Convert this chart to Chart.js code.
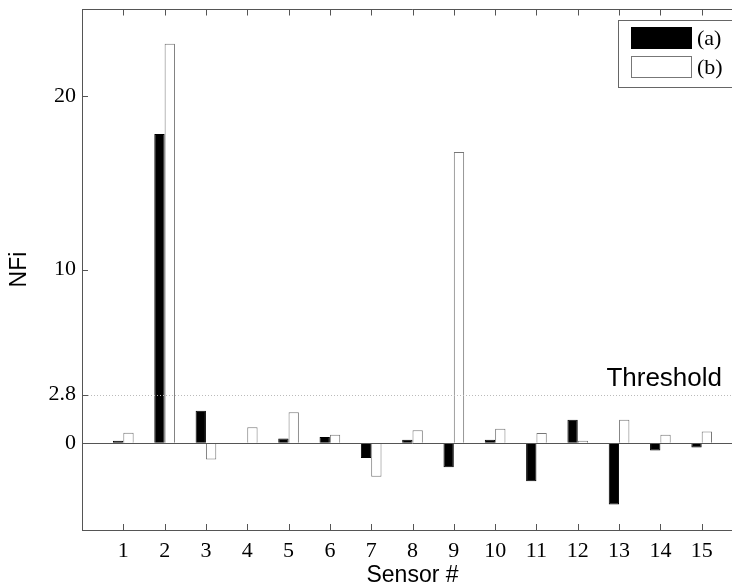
<!DOCTYPE html>
<html>
<head>
<meta charset="utf-8">
<script src="https://cdn.jsdelivr.net/npm/chart.js@4/dist/chart.umd.min.js"></script>
<style>
  html, body { margin: 0; padding: 0; background: #fff; overflow: hidden; }
  #wrap { width: 732px; height: 587px; overflow: hidden; }
  canvas { display: block; }
</style>
</head>
<body>
<div id="wrap"><canvas id="nfiChart" width="760" height="587"></canvas></div>
<script>
// sensor numbers on the x axis
const sensors = [1, 2, 3, 4, 5, 6, 7, 8, 9, 10, 11, 12, 13, 14, 15];
// NFi values
const seriesA = [0.14, 17.8, 1.86, 0, 0.27, 0.35, -0.86, 0.2, -1.38, 0.2, -2.2, 1.35, -3.53, -0.42, -0.25];
const seriesB = [0.6, 23.0, -0.94, 0.92, 1.78, 0.48, -1.93, 0.75, 16.77, 0.83, 0.58, 0.14, 1.35, 0.48, 0.67];
const yTickValues = [0, 2.8, 10, 20];
const threshold = 2.8;
const legendLabels = ['(a)', '(b)'];

const axisColor = '#555';

// inward tick marks, box, zero line, threshold line and label, legend box
const decorPlugin = {
  id: 'decor',
  afterDraw(chart) {
    const ctx = chart.ctx;
    const area = chart.chartArea;
    const x = chart.scales.x;
    const y = chart.scales.y;
    ctx.save();

    // threshold (dotted)
    const ty = Math.round(y.getPixelForValue(threshold)) + 0.5;
    ctx.strokeStyle = '#bbb';
    ctx.lineWidth = 1;
    ctx.setLineDash([1, 2]);
    ctx.beginPath();
    ctx.moveTo(area.left, ty);
    ctx.lineTo(area.right, ty);
    ctx.stroke();
    ctx.setLineDash([]);

    ctx.fillStyle = '#000';
    ctx.font = '26px "Liberation Sans", Arial, sans-serif';
    ctx.textAlign = 'right';
    ctx.textBaseline = 'alphabetic';
    ctx.fillText('Threshold', area.right - 21, ty - 10);

    // zero line and top / right border of the box
    const zy = Math.round(y.getPixelForValue(0)) + 0.5;
    const top = Math.round(area.top) + 0.5;
    const right = Math.round(area.right) + 0.5;
    ctx.strokeStyle = axisColor;
    ctx.beginPath();
    ctx.moveTo(area.left, zy);
    ctx.lineTo(area.right, zy);
    ctx.moveTo(area.left, top);
    ctx.lineTo(right, top);
    ctx.lineTo(right, area.bottom);
    ctx.stroke();

    // tick marks pointing inward
    const tl = 6;
    ctx.beginPath();
    sensors.forEach(s => {
      const px = Math.round(x.getPixelForValue(s)) + 0.5;
      ctx.moveTo(px, area.bottom);
      ctx.lineTo(px, area.bottom - tl);
      ctx.moveTo(px, top);
      ctx.lineTo(px, top + tl);
    });
    yTickValues.forEach(v => {
      const py = Math.round(y.getPixelForValue(v)) + 0.5;
      ctx.moveTo(area.left, py);
      ctx.lineTo(area.left + tl, py);
      ctx.moveTo(right, py);
      ctx.lineTo(right - tl, py);
    });
    ctx.stroke();

    // legend
    const lx = area.right - 125;
    const ly = area.top + 11;
    ctx.strokeStyle = '#666';
    ctx.strokeRect(lx + 0.5, ly + 0.5, 130, 67);
    ctx.font = '22px "Liberation Serif", "Times New Roman", serif';
    ctx.textAlign = 'left';
    ctx.textBaseline = 'middle';
    chart.data.datasets.forEach((ds, i) => {
      const sy = ly + 7 + i * 29;
      ctx.fillStyle = ds.backgroundColor;
      ctx.fillRect(lx + 13, sy, 61, 22);
      ctx.strokeStyle = ds.borderColor;
      ctx.strokeRect(lx + 13.5, sy + 0.5, 60, 21);
      ctx.fillStyle = '#000';
      ctx.fillText(legendLabels[i], lx + 79, sy + 12);
    });

    ctx.restore();
  }
};

const ctx = document.getElementById('nfiChart').getContext('2d');
const chart = new Chart(ctx, {
  type: 'bar',
  data: {
    datasets: [
      {
        label: legendLabels[0],
        data: sensors.map((s, i) => ({ x: s, y: seriesA[i] })),
        backgroundColor: '#000',
        borderColor: '#000',
        borderWidth: 1,
        categoryPercentage: 0.5,
        barPercentage: 1.0
      },
      {
        label: legendLabels[1],
        data: sensors.map((s, i) => ({ x: s, y: seriesB[i] })),
        backgroundColor: '#fff',
        borderColor: '#777',
        borderWidth: 1,
        categoryPercentage: 0.5,
        barPercentage: 1.0
      }
    ]
  },
  options: {
    responsive: false,
    animation: false,
    devicePixelRatio: 1,
    layout: { padding: { top: 9, right: 17, left: 0, bottom: 0 } },
    plugins: {
      legend: { display: false },
      tooltip: { enabled: false }
    },
    scales: {
      x: {
        type: 'linear',
        min: 0,
        max: 16,
        offset: false,
        grid: { display: true, drawOnChartArea: false, drawTicks: false },
        border: { display: true, color: axisColor },
        ticks: {
          stepSize: 1,
          padding: 8,
          color: '#000',
          font: { family: '"Liberation Serif", "Times New Roman", serif', size: 22 },
          callback: v => (v >= 1 && v <= 15 ? String(v) : '')
        },
        title: {
          display: true,
          text: 'Sensor #',
          color: '#000',
          font: { family: '"Liberation Sans", Arial, sans-serif', size: 23, lineHeight: 1 },
          padding: { top: 0, bottom: 0 }
        },
        afterFit: s => { s.height = 57; s.paddingLeft = 0; s.paddingRight = 0; }
      },
      y: {
        min: -5,
        max: 25,
        grid: { display: true, drawOnChartArea: false, drawTicks: false },
        border: { display: true, color: axisColor },
        afterBuildTicks: s => { s.ticks = yTickValues.map(v => ({ value: v })); },
        ticks: {
          padding: 6,
          color: '#000',
          font: { family: '"Liberation Serif", "Times New Roman", serif', size: 22 },
          callback: v => String(v)
        },
        title: {
          display: true,
          text: 'NFi',
          color: '#000',
          font: { family: '"Liberation Sans", Arial, sans-serif', size: 23, lineHeight: 1.2 },
          padding: { top: 6, bottom: 0 }
        },
        afterFit: s => { s.width = 82; s.paddingTop = 0; s.paddingBottom = 0; }
      }
    }
  },
  plugins: [decorPlugin]
});
</script>
</body>
</html>
